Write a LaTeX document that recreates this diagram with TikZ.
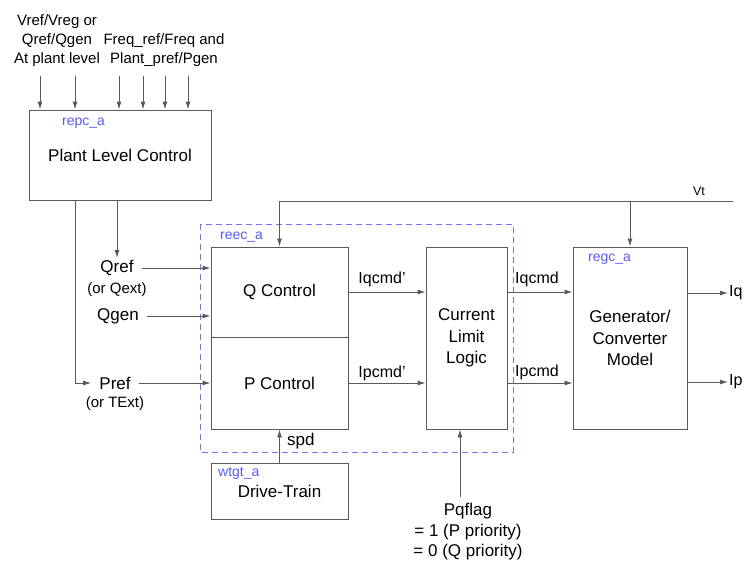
\documentclass[tikz,border=0pt]{standalone}
\usepackage{fontspec}
\setmainfont{Liberation Sans}
\usetikzlibrary{arrows.meta}

\begin{document}
\begin{tikzpicture}[x=1pt,y=-1pt,
    blk/.style={draw=black!65, line width=0.9pt, inner sep=2pt, align=center,
        font=\fontsize{17}{21.5}\selectfont},
    arr/.style={draw=black!65, line width=0.9pt, -{Latex[length=8pt,width=5pt]}},
    txt/.style={font=\fontsize{17}{20.5}\selectfont, inner sep=2pt, align=center},
    sml/.style={font=\fontsize{15}{19}\selectfont, inner sep=0pt, align=center},
    tag/.style={font=\fontsize{14}{16}\selectfont, text=blue!65, inner sep=0pt, anchor=west}]
    \useasboundingbox (0,0) rectangle (753,563);

    % blocks
    \node[blk, minimum width=182pt, minimum height=90pt] (plc) at (120,155) {Plant Level Control};
    \node[blk, minimum width=137pt, minimum height=90pt] (qctl) at (279.5,292) {Q Control};
    \node[blk, minimum width=137pt, minimum height=92pt] (pctl) at (279.5,383) {P Control};
    \node[blk, minimum width=81pt, minimum height=182pt] (cll) at (466.5,338) {Current\\Limit\\Logic};
    \node[blk, minimum width=114pt, minimum height=182pt] (gen) at (630,338) {Generator/\\Converter\\Model};
    \node[blk, minimum width=137pt, minimum height=56pt] (drv) at (279.5,491) {Drive-Train};
    \draw[blue!55, line width=0.9pt, dash pattern=on 6pt off 4pt] (200,224) rectangle (513,452);

    % module names
    \node[tag] (repc) at (62,123) {repc\_a};
    \node[tag] (reec) at (220,237) {reec\_a};
    \node[tag] (regc) at (588,259) {regc\_a};
    \node[tag] (wtgt) at (218,473) {wtgt\_a};

    % plant level inputs
    \node[sml] (vreflbl) at (57,41) {Vref/Vreg or\\Qref/Qgen\\At plant level};
    \node[sml] (freqlbl) at (164,50.5) {Freq\_ref/Freq and\\Plant\_pref/Pgen};
    \foreach \x [count=\i] in {40,75,119,143,165,188} {
        \coordinate (in\i) at (\x,76);
        \draw[arr] (in\i) -- (in\i |- plc.north);
    }

    % references
    \node[txt] (qref) at (117,268) {Qref};
    \node[sml] (qext) at (117,290) {(or Qext)};
    \node[txt] (qgen) at (118,316) {Qgen};
    \node[txt] (pref) at (115,383) {Pref};
    \node[sml] (textlbl) at (115,404) {(or TExt)};
    \draw[arr] (plc.south -| qref.north) -- (qref.north);
    \coordinate (ptap) at (75,200);
    \draw[arr, shorten >=6pt] (ptap) -- (ptap |- pref) -- (pref.west);
    \draw[arr, shorten <=6pt] (qref.east) -- (qctl.west |- qref.east);
    \draw[arr, shorten <=6pt] (qgen.east) -- (qctl.west |- qgen.east);
    \draw[arr, shorten <=6pt] (pref.east) -- (pctl.west |- pref.east);

    % terminal voltage
    \coordinate (vtend) at (733,201);
    \node[font=\fontsize{12.5}{14}\selectfont, inner sep=0pt] (vt) at (699,191) {Vt};
    \draw[arr] (vtend) -- (qctl.north |- vtend) -- (qctl.north);
    \draw[arr] (gen.north |- vtend) -- (gen.north);

    % current commands
    \draw[arr] (qctl.east) -- (cll.west |- qctl.east);
    \draw[arr] (pctl.east) -- (cll.west |- pctl.east);
    \draw[arr] (cll.east |- qctl.east) -- (gen.west |- qctl.east);
    \draw[arr] (cll.east |- pctl.east) -- (gen.west |- pctl.east);
    \node[txt, font=\fontsize{16}{18}\selectfont] (iqcp) at (382,279) {Iqcmd'};
    \node[txt, font=\fontsize{16}{18}\selectfont] (ipcp) at (382,373) {Ipcmd'};
    \node[txt, font=\fontsize{16}{18}\selectfont] (iqc) at (537,279) {Iqcmd};
    \node[txt, font=\fontsize{16}{18}\selectfont] (ipc) at (537,372) {Ipcmd};

    % outputs
    \node[txt, font=\fontsize{16}{18}\selectfont, inner sep=0pt, anchor=west] (iq) at (729,293) {Iq};
    \node[txt, font=\fontsize{16}{18}\selectfont, inner sep=0pt, anchor=west] (ip) at (729,382) {Ip};
    \draw[arr, shorten >=1pt] (iq.west -| gen.east) -- (iq.west);
    \draw[arr, shorten >=1pt] (ip.west -| gen.east) -- (ip.west);

    % speed and flag
    \draw[arr] (drv.north) -- (pctl.south);
    \node[txt, anchor=west] (spd) at (285,441) {spd};
    \node[txt] (pqflag) at (468,532) {Pqflag\\= 1 (P priority)\\= 0 (Q priority)};
    \coordinate (pqtap) at (460,497);
    \draw[arr] (pqtap) -- (pqtap |- cll.south);
\end{tikzpicture}
\end{document}
